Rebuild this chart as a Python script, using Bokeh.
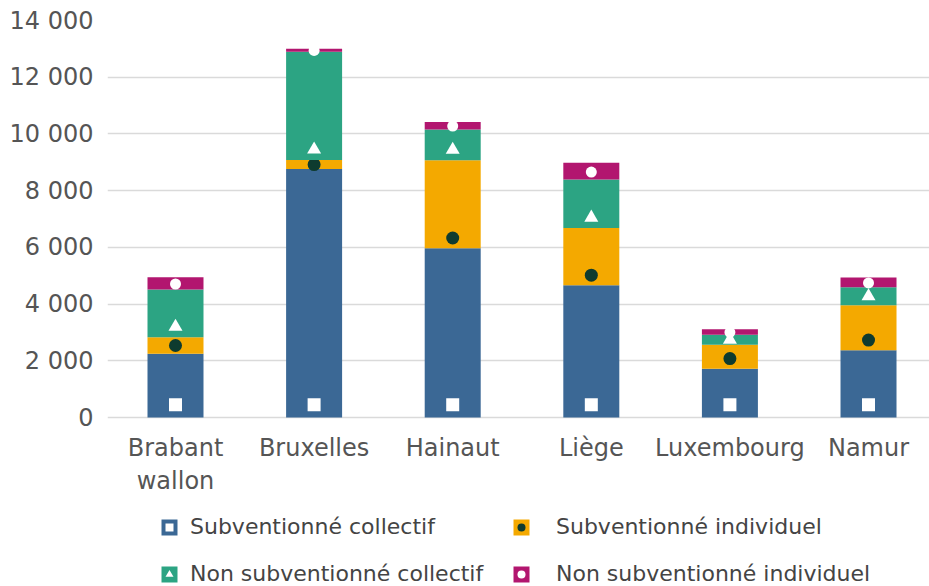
import numpy as np
from bokeh.plotting import figure
from bokeh.models import ColumnDataSource, Range1d, FixedTicker, Legend, LegendItem
from bokeh.embed import file_html
from bokeh.resources import INLINE

# ---- data ----
regions = ["Brabant\nwallon", "Bruxelles", "Hainaut", "Liège", "Luxembourg", "Namur"]
subv_collectif = [2250, 8760, 5970, 4660, 1720, 2370]
subv_individuel = [580, 320, 3100, 2020, 850, 1590]
non_subv_collectif = [1680, 3820, 1090, 1710, 350, 630]
non_subv_individuel = [440, 100, 260, 590, 190, 350]
series_labels = ["Subventionné collectif", "Subventionné individuel",
                 "Non subventionné collectif", "Non subventionné individuel"]
ytick_values = [0, 2000, 4000, 6000, 8000, 10000, 12000, 14000]
ytick_labels = ["0", "2 000", "4 000", "6 000", "8 000", "10 000", "12 000", "14 000"]

# ---- styles ----
bar_colors = ["#3b6895", "#f4a900", "#2ca483", "#b2166f"]
marker_types = ["square", "circle", "triangle", "circle"]
marker_colors = ["#ffffff", "#0e3b2f", "#ffffff", "#ffffff"]
marker_sizes = [13, 13, 14, 11]
marker_caps = [450, 360, 370, 1e9]
marker_fracs = [10.0, 0.5, 0.5, 0.45]
FONT = "DejaVu Sans"

series = [subv_collectif, subv_individuel, non_subv_collectif, non_subv_individuel]
x = np.arange(len(regions))

# frame spans the whole lower area; the category axis is pinned at y = 0
p = figure(width=929, height=586, output_backend="svg", toolbar_location=None,
           x_range=Range1d(-0.4906, 5.44), y_range=Range1d(-5959, 14000),
           min_border_left=107, min_border_right=0, min_border_top=20,
           min_border_bottom=0)
p.outline_line_color = None
p.background_fill_color = "white"
p.border_fill_color = "white"

bottom = np.zeros(len(regions))
items = []
for i, vals in enumerate(series):
    vals = np.array(vals, dtype=float)
    top = bottom + vals
    ymark = bottom + np.minimum(marker_caps[i], vals * marker_fracs[i])
    src = ColumnDataSource(dict(x=x, bottom=bottom.copy(), top=top, ym=ymark))
    rb = p.vbar(x="x", bottom="bottom", top="top", width=0.404, source=src,
                fill_color=bar_colors[i], line_color=None)
    rm = p.scatter(x="x", y="ym", source=src, marker=marker_types[i],
                   size=marker_sizes[i], fill_color=marker_colors[i], line_color=None)
    items.append(LegendItem(label=series_labels[i], renderers=[rb, rm]))
    bottom = top

# axes
p.xaxis.fixed_location = 0
p.xaxis.ticker = FixedTicker(ticks=list(x))
p.xaxis.major_label_overrides = {int(k): r for k, r in zip(x, regions)}
p.yaxis.ticker = FixedTicker(ticks=ytick_values)
p.yaxis.major_label_overrides = {v: l for v, l in zip(ytick_values, ytick_labels)}
for ax in (p.xaxis, p.yaxis):
    ax.axis_line_color = None
    ax.major_tick_line_color = None
    ax.minor_tick_line_color = None
    ax.major_tick_out = 0
    ax.major_tick_in = 0
    ax.minor_tick_out = 0
    ax.major_label_text_font = FONT
    ax.major_label_text_font_size = "24px"
    ax.major_label_text_color = "#555555"
p.xaxis.major_label_standoff = 16
p.yaxis.major_label_standoff = 14

p.xgrid.grid_line_color = None
p.ygrid.ticker = FixedTicker(ticks=ytick_values)
p.ygrid.grid_line_color = "#dadada"
p.ygrid.grid_line_width = 1.5

# legend: two columns (collectif items on the left, individuel on the right)
legend_cols = [([items[0], items[2]], 52, 11), ([items[1], items[3]], 404, 25)]
for col_items, vx, standoff in legend_cols:
    lg = Legend(items=col_items, location=(vx, 0),
                glyph_width=20, glyph_height=20, label_height=20,
                label_standoff=standoff, spacing=22, padding=0, margin=0,
                border_line_color=None, background_fill_alpha=0,
                label_text_font=FONT, label_text_font_size="22px",
                label_text_color="#444444")
    p.add_layout(lg)

open("out.html", "w").write(file_html(p, INLINE))
